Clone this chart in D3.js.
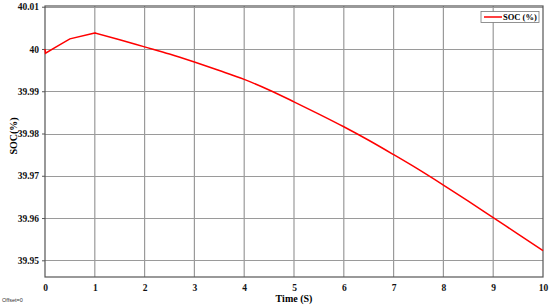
<!DOCTYPE html>
<head>
<meta charset="utf-8">
<title>SOC</title>
<script src="https://d3js.org/d3.v7.min.js"></script>
<style>
  body { margin: 0; background: #fff; }
  text { font-family: "Liberation Serif", "Times New Roman", serif; }
</style>
</head>
<body>
<div id="chart"></div>
<script>

  // values
  var time = [0, 0.01, 0.25, 0.5, 1, 1.5, 2, 2.5, 3, 3.5, 4, 4.5, 5, 5.5, 6, 6.5, 7, 7.5, 8, 8.5, 9, 9.5, 10];
  var soc  = [40.0000, 39.9990, 40.0007, 40.0024, 40.0038, 40.0022, 40.0005, 39.9988, 39.9969, 39.9949, 39.9928,
              39.9903, 39.9875, 39.9846, 39.9816, 39.9784, 39.9750, 39.9715, 39.9678, 39.9640, 39.9601, 39.9562, 39.9523];
  var xTicks = [0, 1, 2, 3, 4, 5, 6, 7, 8, 9, 10];
  var yTicks = [39.95, 39.96, 39.97, 39.98, 39.99, 40, 40.01];
  var seriesName = "SOC (%)";

  var W = 550, H = 307;
  var margin = {top: 6, right: 7, bottom: 30, left: 45},
      width = W - margin.left - margin.right,
      height = H - margin.top - margin.bottom;

  var svg = d3.select("#chart")
    .append("svg")
      .attr("width", W)
      .attr("height", H);

  var g = svg.append("g")
      .attr("transform", "translate(" + margin.left + "," + margin.top + ")");

  var x = d3.scaleLinear()
    .domain([0, 10])
    .range([0, width]);

  var y = d3.scaleLinear()
    .domain([39.94605, 40.01017])
    .range([height, 0]);

  // grid
  g.append("g")
    .selectAll("line")
    .data(xTicks.slice(1, -1))
    .enter()
    .append("line")
      .attr("x1", function(d) { return x(d); })
      .attr("x2", function(d) { return x(d); })
      .attr("y1", 0)
      .attr("y2", height)
      .style("stroke", "#9a9a9a")
      .style("stroke-width", 1.2);

  g.append("g")
    .selectAll("line")
    .data(yTicks)
    .enter()
    .append("line")
      .attr("x1", 0)
      .attr("x2", width)
      .attr("y1", function(d) { return Math.round(y(d)) + 0.5; })
      .attr("y2", function(d) { return Math.round(y(d)) + 0.5; })
      .style("stroke", "#9a9a9a")
      .style("stroke-width", 1.2);

  // axes
  var xAxis = g.append("g")
    .attr("transform", "translate(0," + height + ")")
    .call(d3.axisBottom(x).tickValues(xTicks).tickSize(0).tickPadding(7).tickFormat(d3.format("d")));

  var yAxis = g.append("g")
    .call(d3.axisLeft(y).tickValues(yTicks).tickSize(3).tickPadding(3).tickFormat(function(d) { return d3.format("")(+d.toFixed(2)); }));

  [xAxis, yAxis].forEach(function(a) {
    a.select(".domain").remove();
    a.selectAll("line").style("stroke", "#555");
    a.selectAll("text")
      .style("font-family", "'Liberation Serif', serif")
      .style("font-weight", "bold")
      .style("font-size", "9.5px")
      .style("fill", "#111");
  });

  // frame
  g.append("rect")
    .attr("x", 0)
    .attr("y", 0)
    .attr("width", width)
    .attr("height", height)
    .style("fill", "none")
    .style("stroke", "#555")
    .style("stroke-width", 1.2);

  // series: straight start up to the peak at t=1, smooth after it
  var pts = time.map(function(t, i) { return [t, soc[i]]; });
  var peak = time.indexOf(1);

  var lineA = d3.line()
    .x(function(d) { return x(d[0]); })
    .y(function(d) { return y(d[1]); });
  var lineB = d3.line()
    .x(function(d) { return x(d[0]); })
    .y(function(d) { return y(d[1]); })
    .curve(d3.curveMonotoneX);

  g.append("path")
    .attr("d", lineA(pts.slice(0, peak + 1)) + lineB(pts.slice(peak)).replace(/^M[^A-Za-z]*/, "L" + x(1) + "," + y(soc[peak])))
    .style("fill", "none")
    .style("stroke", "#ff0000")
    .style("stroke-width", 1.5)
    .style("stroke-linejoin", "miter");

  // labels
  svg.append("text")
    .attr("x", margin.left + width / 2)
    .attr("y", H - 5)
    .style("text-anchor", "middle")
    .style("font-weight", "bold")
    .style("font-size", "10px")
    .text("Time (S)");

  svg.append("text")
    .attr("transform", "translate(17," + 136 + ") rotate(-90)")
    .style("text-anchor", "middle")
    .style("font-weight", "bold")
    .style("font-size", "10px")
    .text("SOC(%)");

  svg.append("text")
    .attr("x", 2)
    .attr("y", 302)
    .style("font-family", "'Liberation Sans', sans-serif")
    .style("font-size", "5.5px")
    .style("fill", "#333")
    .text("Offset=0");

  // legend
  var leg = svg.append("g")
    .attr("transform", "translate(481,11.5)");
  leg.append("rect")
    .attr("width", 58)
    .attr("height", 11)
    .style("fill", "#fff")
    .style("stroke", "#777")
    .style("stroke-width", 0.8);
  leg.append("line")
    .attr("x1", 3)
    .attr("x2", 21)
    .attr("y1", 5.5)
    .attr("y2", 5.5)
    .style("stroke", "#ff0000")
    .style("stroke-width", 1.5);
  leg.append("text")
    .attr("x", 22)
    .attr("y", 8.6)
    .style("font-weight", "bold")
    .style("font-size", "8.5px")
    .text(seriesName);

</script>
</body>
